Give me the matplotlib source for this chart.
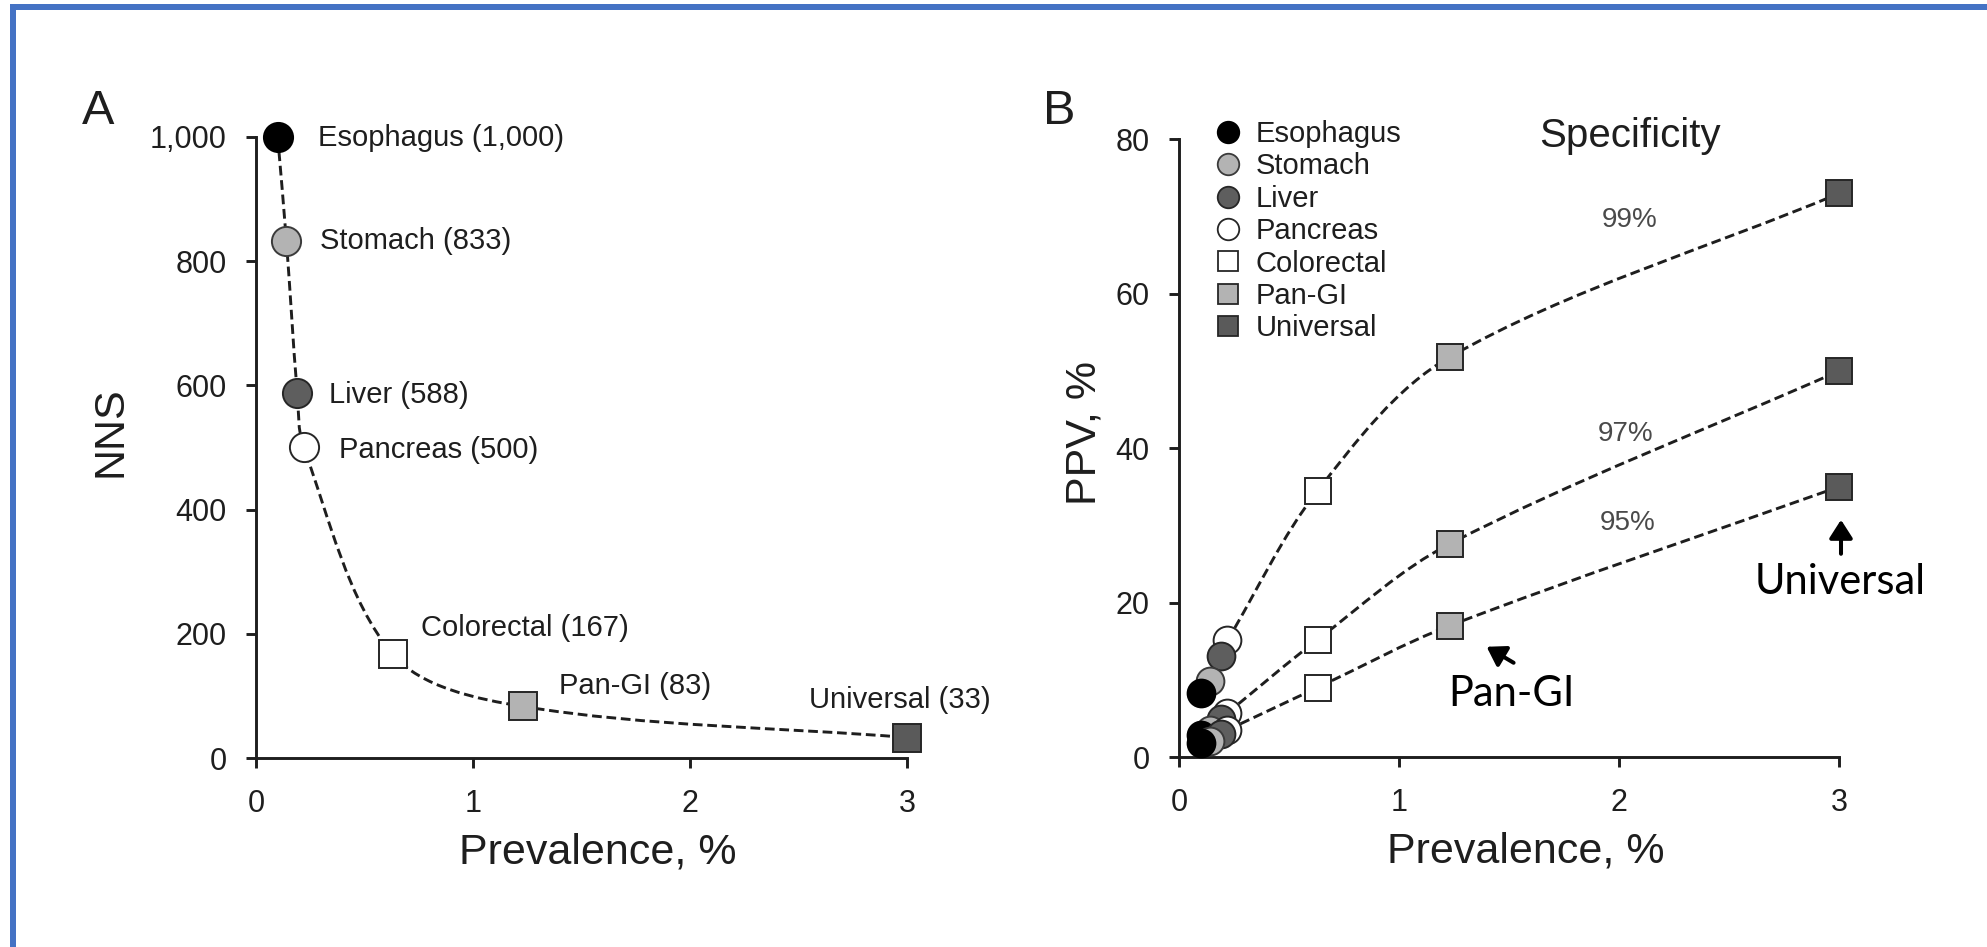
import numpy as np
import matplotlib
matplotlib.use("Agg")
import matplotlib.pyplot as plt
from matplotlib.path import Path
from matplotlib.patches import PathPatch, Rectangle
from matplotlib.lines import Line2D
from matplotlib.transforms import offset_copy

plt.rcParams['font.family'] = ['Liberation Sans', 'DejaVu Sans']
plt.rcParams['lines.scale_dashes'] = False

# ---------------- data ----------------
sites = ["Esophagus", "Stomach", "Liver", "Pancreas", "Colorectal", "Pan-GI", "Universal"]
prevalence = [0.10, 0.14, 0.19, 0.22, 0.63, 1.23, 3.0]
nns = [1000, 833, 588, 500, 167, 83, 33]
nns_text = ["1,000", "833", "588", "500", "167", "83", "33"]

spec_labels = ["99%", "97%", "95%"]
ppv_99 = [8.3, 9.8, 13.1, 15.1, 34.5, 51.8, 73.0]
ppv_97 = [2.9, 3.5, 4.9, 5.7, 15.2, 27.6, 50.0]
ppv_95 = [1.8, 2.1, 3.0, 3.5, 9.0, 17.0, 35.0]

nns_ticks = [0, 200, 400, 600, 800, 1000]
nns_ticklabels = ["0", "200", "400", "600", "800", "1,000"]
ppv_ticks = [0, 20, 40, 60, 80]
prev_ticks = [0, 1, 2, 3]

# ---------------- styles ----------------
marker_style = {
    "Esophagus":  ("o", "#000000", "#000000"),
    "Stomach":    ("o", "#b3b3b3", "#3a3a3a"),
    "Liver":      ("o", "#5e5e5e", "#262626"),
    "Pancreas":   ("o", "#ffffff", "#262626"),
    "Colorectal": ("s", "#ffffff", "#262626"),
    "Pan-GI":     ("s", "#b3b3b3", "#262626"),
    "Universal":  ("s", "#5a5a5a", "#262626"),
}
INK = "#1e1e1e"
W, H = 1987, 947
TICK_FS = 22
LABEL_FS = 31
NOTE_FS = 21
CALLOUT = ["Lato", "DejaVu Sans"]

fig = plt.figure(figsize=(W / 100, H / 100), dpi=100)


def px_axes(left, right, bottom_y, xmax, ymax, xspan, ppy):
    """Axes placed so that data 0 sits at pixel (left, bottom_y) measured from top-left."""
    ppx = (right - left) / xspan
    return fig.add_axes([left / W, (H - bottom_y) / H, ppx * xmax / W, ppy * ymax / H])


def style_axes(ax, xbound, ybound):
    for s in ("top", "right"):
        ax.spines[s].set_visible(False)
    for s in ("left", "bottom"):
        ax.spines[s].set_linewidth(2.1)
        ax.spines[s].set_color(INK)
    ax.spines["bottom"].set_bounds(*xbound)
    ax.spines["left"].set_bounds(*ybound)
    ax.tick_params(direction="out", length=7.2, width=2.1, color=INK,
                   labelsize=TICK_FS, labelcolor=INK)
    ax.tick_params(axis="y", pad=14)
    ax.tick_params(axis="x", pad=15)
    ax.patch.set_visible(False)


def smooth_curve(ax, xs, ys):
    """Dashed smooth curve through the points (chord-length Catmull-Rom as Bezier)."""
    P = ax.transData.transform(np.column_stack([xs, ys]))
    n = len(P)
    t = np.concatenate([[0], np.cumsum(np.hypot(*np.diff(P, axis=0).T))])
    m = np.zeros_like(P)
    m[0] = (P[1] - P[0]) / (t[1] - t[0])
    m[-1] = (P[-1] - P[-2]) / (t[-1] - t[-2])
    for i in range(1, n - 1):
        m[i] = (P[i + 1] - P[i - 1]) / (t[i + 1] - t[i - 1])
    verts = [P[0]]
    codes = [Path.MOVETO]
    for i in range(n - 1):
        h = t[i + 1] - t[i]
        verts += [P[i] + m[i] * h / 3, P[i + 1] - m[i + 1] * h / 3, P[i + 1]]
        codes += [Path.CURVE4] * 3
    verts = ax.transData.inverted().transform(np.array(verts))
    ax.add_patch(PathPatch(Path(verts, codes), fill=False, transform=ax.transData,
                           linestyle=(0, (7.0, 3.4)), lw=2.1, edgecolor=INK, zorder=2))


def draw_marker(ax, x, y, site, size):
    mk, fc, ec = marker_style[site]
    ms = size if mk == "o" else size * 0.93
    ax.plot([x], [y], marker=mk, ms=ms, mfc=fc, mec=ec, mew=1.4,
            ls="none", zorder=3, clip_on=False)


# ---------------- panel A ----------------
axA = px_axes(256, 907, 758, 3.15, 1050, 3.0, 0.621)
axA.set_xlim(0, 3.15)
axA.set_ylim(0, 1050)
style_axes(axA, (0, 3), (0, 1000))
axA.set_xticks(prev_ticks)
axA.set_yticks(nns_ticks)
axA.set_yticklabels(nns_ticklabels)
axA.set_xlabel("Prevalence, %", fontsize=LABEL_FS, color=INK, labelpad=10)
axA.set_ylabel("NNS", fontsize=LABEL_FS, color=INK, labelpad=14)

smooth_curve(axA, prevalence, nns)
for p, n, s in zip(prevalence, nns, sites):
    draw_marker(axA, p, n, s, 21)

label_offsets = {
    "Esophagus": (40, -1, "left"),
    "Stomach": (34, 0, "left"),
    "Liver": (32, -2, "left"),
    "Pancreas": (35, -2, "left"),
    "Colorectal": (28, 26, "left"),
    "Pan-GI": (36, 20, "left"),
    "Universal": (-7, 38, "center"),
}
for p, n, s, t in zip(prevalence, nns, sites, nns_text):
    dx, dy, ha = label_offsets[s]
    axA.annotate(f"{s} ({t})", xy=(p, n), xytext=(dx, dy), textcoords="offset pixels",
                 ha=ha, va="center", fontsize=NOTE_FS, color=INK)

fig.text(98 / W, 1 - 112 / H, "A", fontsize=35, color=INK, ha="center", va="center")

# ---------------- panel B ----------------
axB = px_axes(1179, 1839, 757, 3.15, 84, 3.0, 7.72)
axB.set_xlim(0, 3.15)
axB.set_ylim(0, 84)
style_axes(axB, (0, 3), (0, 80))
axB.set_xticks(prev_ticks)
axB.set_yticks(ppv_ticks)
axB.set_xlabel("Prevalence, %", fontsize=LABEL_FS, color=INK, labelpad=10)
axB.set_ylabel("PPV, %", fontsize=LABEL_FS, color=INK, labelpad=8)

curves = [ppv_99, ppv_97, ppv_95]
for ppv in curves:
    smooth_curve(axB, prevalence[3:], ppv[3:])

# circles drawn back to front so the esophagus marker sits on top
draw_order = [3, 2, 1, 0, 4, 5, 6]
for ppv in curves:
    for i in draw_order:
        draw_marker(axB, prevalence[i], ppv[i], sites[i], 20)

spec_pos = [(2.05, 69.5), (2.03, 41.9), (2.04, 30.3)]
for lab, (x, y) in zip(spec_labels, spec_pos):
    axB.text(x, y, lab, fontsize=20, color="#4a4a4a", ha="center", va="center")
fig.text(1630 / W, 1 - 136 / H, "Specificity", fontsize=29, color=INK, ha="center", va="center")

handles = []
for s in sites:
    mk, fc, ec = marker_style[s]
    handles.append(Line2D([], [], marker=mk, ls="none", ms=15.5 if mk == "o" else 15,
                          mfc=fc, mec=ec, mew=1.3))
axB.legend(handles, sites, loc="upper left", frameon=False, fontsize=NOTE_FS,
           bbox_to_anchor=(1213 / W, 1 - 120 / H), bbox_transform=fig.transFigure,
           handlelength=1.0, handletextpad=0.45, labelspacing=0.15, borderpad=0,
           borderaxespad=0, labelcolor=INK)

fig.text(1059 / W, 1 - 112 / H, "B", fontsize=35, color=INK, ha="center", va="center")

# call-outs on the 95% specificity curve
arrow_kw = dict(arrowstyle="-|>,head_length=0.5,head_width=0.32", lw=2.9, color="black",
                mutation_scale=22, shrinkA=0, shrinkB=0)
pan_i, uni_i = 5, 6
tip = offset_copy(axB.transData, fig=fig, x=37, y=-21, units="dots")
axB.annotate("", xy=(prevalence[pan_i], ppv_95[pan_i]), xycoords=tip,
             xytext=(27, -16), textcoords="offset pixels", arrowprops=arrow_kw)
axB.annotate("Pan-GI", xy=(prevalence[pan_i], ppv_95[pan_i]), xytext=(62, -68),
             textcoords="offset pixels", ha="center", va="center",
             fontsize=30, family=CALLOUT, color="black")
tip = offset_copy(axB.transData, fig=fig, x=2, y=-33, units="dots")
axB.annotate("", xy=(prevalence[uni_i], ppv_95[uni_i]), xycoords=tip,
             xytext=(0, -34), textcoords="offset pixels", arrowprops=arrow_kw)
axB.annotate("Universal", xy=(prevalence[uni_i], ppv_95[uni_i]), xytext=(1, -95),
             textcoords="offset pixels", ha="center", va="center",
             fontsize=30, family=CALLOUT, color="black")

# ---------------- blue frame (top and left edges) ----------------
frame = "#4472c4"
fig.patches.append(Rectangle((10 / W, 1 - 10 / H), 1 - 10 / W, 6 / H, transform=fig.transFigure,
                             facecolor=frame, edgecolor="none", zorder=10))
fig.patches.append(Rectangle((10 / W, 0), 6 / W, 1 - 4 / H, transform=fig.transFigure,
                             facecolor=frame, edgecolor="none", zorder=10))

fig.savefig("out.png", dpi=100, facecolor="white")
